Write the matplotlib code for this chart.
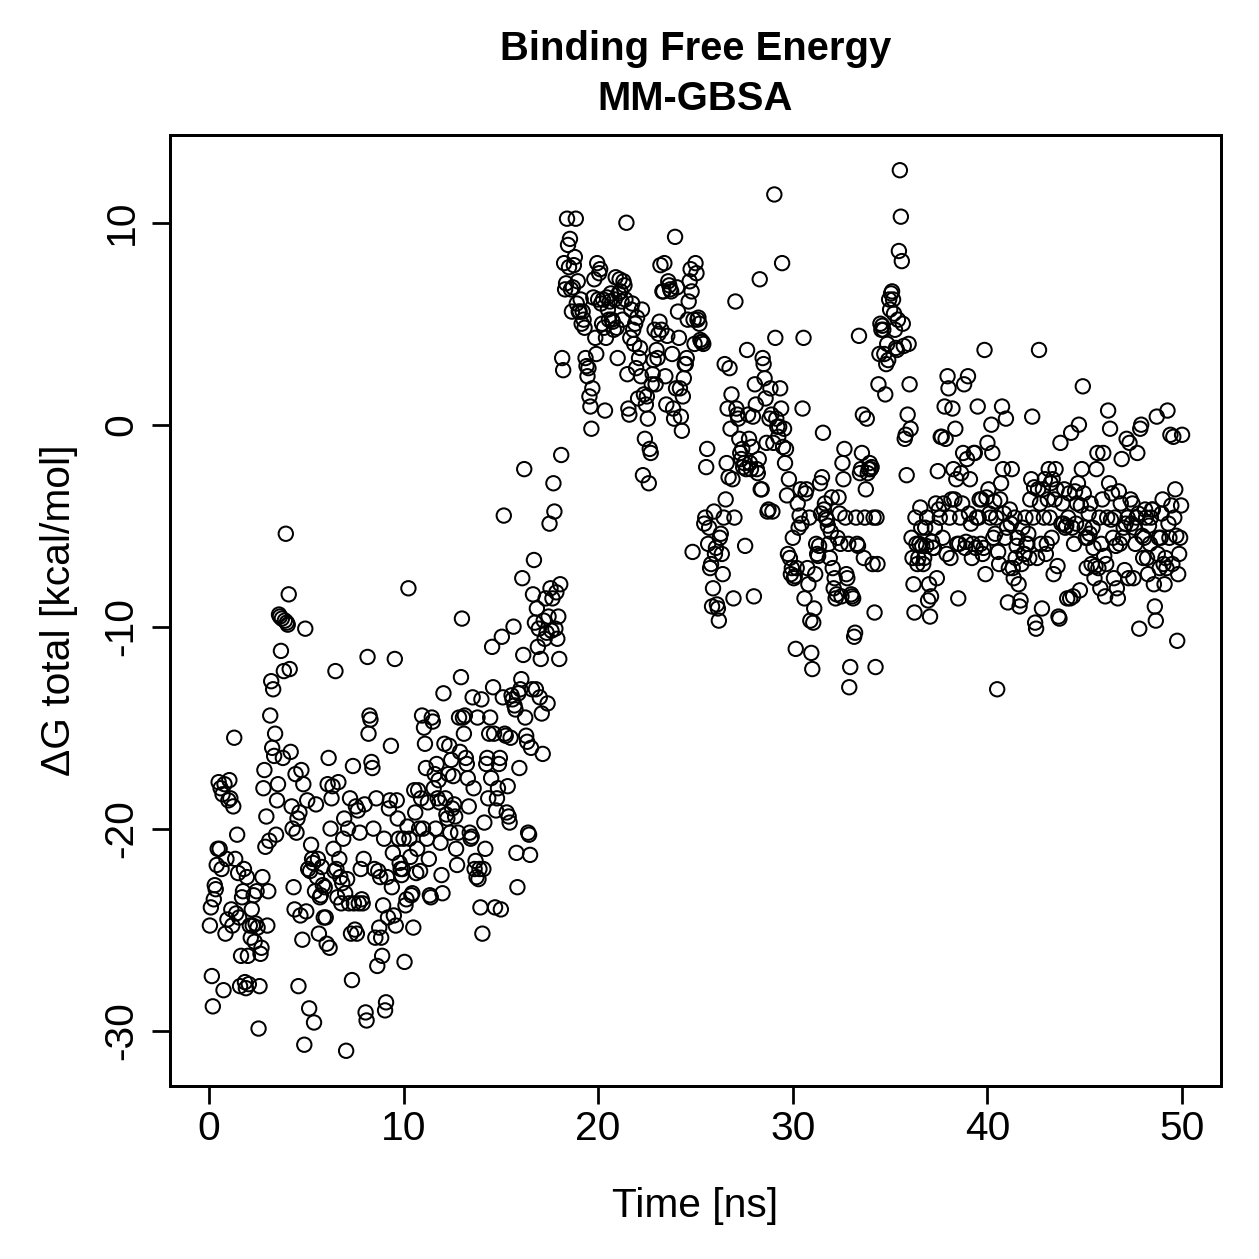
import numpy as np
import matplotlib
matplotlib.use("Agg")
import matplotlib.pyplot as plt

plt.rcParams['font.family'] = ['Liberation Sans', 'DejaVu Sans']

# Delta G total (kcal/mol), one value per frame, 20 frames per ns (0.05 ns step)
dg_00_10 = [
    -24.8, -23.9, -27.3, -28.8, -23.5, -22.8, -23.0, -21.8, -21.0, -17.7, -21.0, -18.0, -22.0, -18.3, -28.0, -17.8, -25.2, -21.5, -24.5, -18.6,
    -17.6, -18.5, -24.0, -24.8, -18.9, -15.5, -21.5, -24.2, -20.3, -22.2, -24.4, -27.8, -26.3, -23.4, -23.1, -22.0, -27.6, -27.9, -22.4, -26.3,
    -27.7, -24.8, -25.4, -24.0, -24.8, -23.3, -25.6, -24.7, -23.1, -24.9, -29.9, -27.8, -26.2, -25.9, -22.4, -18.0, -17.1, -20.9, -19.4, -24.8,
    -23.1, -20.6, -14.4, -12.7, -16.0, -13.1, -16.4, -15.3, -20.3, -18.6, -17.8, -9.4, -9.5, -11.2, -9.6, -16.5, -12.2, -9.7, -5.4, -9.8,
    -9.9, -8.4, -12.1, -16.2, -18.9, -20.0, -22.9, -24.0, -17.3, -20.2, -19.5, -27.8, -19.2, -24.3, -17.1, -25.5, -17.8, -30.7, -10.1, -24.1,
    -18.6, -22.0, -28.9, -22.1, -20.8, -21.5, -21.7, -29.6, -23.1, -18.8, -22.4, -21.5, -25.2, -23.4, -23.3, -21.9, -22.8, -24.4, -22.9, -24.4,
    -25.7, -17.8, -16.5, -25.9, -20.0, -18.5, -17.9, -21.0, -22.1, -12.2, -22.0, -23.4, -17.7, -21.5, -22.4, -23.7, -22.7, -20.5, -19.5, -23.2,
    -31.0, -22.5, -20.0, -23.7, -18.5, -25.2, -27.5, -16.9, -23.7, -25.0, -18.9, -25.2, -19.1, -23.7, -20.2, -22.0, -23.5, -23.7, -21.5, -18.8,
    -29.1, -29.5, -11.5, -15.3, -14.4, -14.6, -16.7, -17.0, -20.0, -22.0, -25.4, -18.5, -26.8, -22.1, -24.9, -22.4, -25.4, -26.3, -23.8, -20.5,
    -29.0, -28.6, -22.4, -24.4, -19.0, -18.6, -15.9, -22.9, -21.2, -24.3, -11.6, -24.8, -18.6, -19.5, -20.5, -21.7, -22.0, -22.3, -22.0, -20.5,
]
dg_10_20 = [
    -26.6, -23.8, -23.5, -19.9, -8.1, -20.5, -21.4, -23.3, -23.2, -24.9, -18.1, -19.2, -22.2, -21.0, -18.1, -20.0, -22.1, -18.5, -14.4, -20.0,
    -15.0, -15.8, -17.0, -20.5, -18.7, -21.5, -23.3, -23.4, -14.5, -14.7, -18.0, -17.3, -20.0, -16.8, -18.5, -17.6, -18.7, -20.7, -22.3, -23.2,
    -13.3, -15.8, -18.5, -19.3, -19.5, -17.3, -15.9, -20.2, -16.6, -19.0, -17.4, -18.8, -19.4, -21.0, -21.8, -20.2, -14.5, -16.2, -12.5, -9.6,
    -14.5, -15.3, -14.4, -16.5, -16.8, -17.5, -18.9, -20.2, -20.5, -20.4, -13.5, -18.0, -22.0, -21.6, -22.4, -14.5, -22.5, -22.0, -23.9, -13.6,
    -25.2, -22.0, -19.7, -21.0, -16.8, -16.5, -18.5, -15.3, -14.5, -17.5, -11.0, -13.0, -15.3, -23.9, -19.1, -18.5, -18.0, -16.8, -16.5, -24.0,
    -10.5, -13.5, -4.5, -15.3, -15.4, -19.2, -17.9, -19.4, -19.7, -15.5, -13.4, -13.6, -10.0, -13.9, -14.1, -21.2, -22.9, -13.3, -17.0, -13.1,
    -12.6, -7.6, -11.4, -2.2, -14.5, -15.4, -15.7, -20.2, -20.3, -21.3, -16.0, -13.1, -8.4, -6.7, -9.8, -13.1, -9.1, -11.0, -10.1, -13.5,
    -11.6, -14.3, -16.3, -9.7, -10.6, -8.6, -10.3, -13.8, -9.5, -4.9, -8.1, -10.2, -8.6, -2.9, -4.3, -10.1, -8.3, -10.6, -9.5, -11.6,
    -7.9, -1.5, 3.3, 2.7, 8.0, 6.7, 7.0, 10.2, 8.9, 7.8, 9.2, 6.7, 5.6, 6.8, 7.9, 8.3, 10.2, 6.0, 7.1, 5.6,
    5.6, 6.2, 5.0, 5.6, 5.2, 4.8, 3.3, 2.9, 2.4, 2.8, 1.4, 0.9, -0.2, 1.8, 6.3, 7.2, 4.3, 3.5, 8.0, 6.2,
]
dg_20_30 = [
    7.5, 7.7, 6.0, 5.0, 6.2, 4.8, 0.7, 4.3, 6.3, 5.7, 5.2, 6.1, 6.5, 5.2, 5.1, 4.7, 6.2, 7.3, 4.8, 3.3,
    6.5, 7.2, 6.6, 6.1, 5.2, 7.1, 6.9, 6.2, 10.0, 2.5, 0.8, 0.5, 4.3, 5.7, 6.0, 4.7, 4.0, 5.0, 2.8, 5.3,
    1.3, 3.3, 3.8, 2.4, 5.7, -2.5, 1.5, -0.7, 1.0, 1.4, 0.3, -2.9, -1.2, -1.4, 2.0, 2.5, 3.2, 4.7, 2.0, 3.7,
    3.3, 4.5, 5.1, 7.9, 4.7, 6.6, 6.6, 8.0, 2.4, 1.0, 4.4, 7.1, 6.9, 6.7, 6.6, 3.5, 0.8, 0.3, 9.3, 1.8,
    6.8, 5.6, 4.3, 1.8, 0.4, -0.3, 1.4, 2.3, 3.0, 3.0, 3.3, 5.2, 6.1, 7.1, 7.7, 6.6, -6.3, 5.2, 4.0, 8.0,
    7.5, 5.2, 5.3, 5.0, 4.2, 4.1, 4.1, 4.0, -4.9, -4.6, -2.1, -1.2, -5.9, -5.1, -7.1, -6.9, -9.0, -8.1, -4.3, -6.4,
    -6.1, -8.9, -9.1, -9.7, -5.6, -5.4, -6.4, -7.4, -4.6, 3.0, -3.7, -1.9, 0.8, -2.6, 2.8, -0.2, 1.5, -2.7, -8.6, -4.6,
    6.1, 0.8, 0.5, 0.3, -0.7, -1.4, -1.7, -1.2, -2.1, -1.9, -6.0, -2.2, 3.7, 0.5, -0.7, -1.9, -2.2, -1.1, 0.4, -8.5,
    2.0, 1.0, -2.2, -2.4, -1.7, 7.2, -3.2, -3.2, 3.3, 3.0, 2.3, 1.3, -0.9, -4.3, -4.2, 0.3, 1.8, 0.5, -4.3, -0.9,
    11.4, 4.3, 0.3, -0.1, -0.6, -0.1, 1.8, 0.8, 8.0, -1.1, -0.2, -1.9, -1.2, -3.5, -6.4, -2.7, -6.6, -7.4, -7.1, -5.6,
]
dg_30_40 = [
    -7.6, -7.5, -11.1, -7.1, -3.9, -5.1, -4.5, -3.2, -4.9, 0.8, 4.3, -8.6, -3.4, -3.2, -7.1, -7.9, -4.6, -9.7, -11.3, -12.1,
    -9.8, -9.1, -7.4, -5.9, -6.4, -6.5, -6.0, -2.9, -4.4, -2.6, -0.4, -4.2, -3.9, -4.6, -4.7, -5.0, -5.9, -6.6, -5.3, -3.6,
    -7.1, -8.1, -7.6, -8.6, -8.4, -5.6, -3.6, -4.4, -5.9, -8.5, -1.9, -2.7, -1.2, -4.6, -7.4, -7.6, -5.9, -13.0, -12.0, -8.4,
    -8.5, -8.6, -10.5, -10.3, -4.6, -5.9, -6.0, 4.4, -2.4, -2.2, -1.4, 0.5, -6.6, -4.6, -3.2, 0.3, -2.4, -2.2, -1.9, -2.2,
    -2.1, -6.9, -4.6, -9.3, -12.0, -4.6, -6.9, 2.0, 3.5, 5.0, 4.7, 4.9, 4.7, 3.5, 1.5, 3.0, 4.0, 3.2, 6.2, 5.7,
    6.5, 6.6, 6.2, 5.5, 4.7, 3.8, 3.7, 5.2, 8.6, 12.6, 10.3, 8.1, 5.0, 3.9, -0.7, -0.5, -2.5, 0.5, 4.0, 2.0,
    -0.2, -5.6, -6.6, -7.9, -9.3, -4.6, -5.9, -6.9, -6.6, -5.9, -4.1, -5.1, -6.0, -6.9, -6.6, -5.1, -6.0, -4.6, -8.7, -7.9,
    -9.5, -8.5, -5.8, -6.1, -6.1, -5.1, -3.9, -7.6, -2.3, -4.2, -4.6, -0.6, -0.6, -5.6, -3.9, 0.9, -0.7, -6.4, 2.4, 1.8,
    -4.6, -6.6, -3.7, 0.8, -2.2, -3.7, -0.2, -2.7, -5.9, -8.6, -5.9, -4.6, -2.4, -3.9, -1.4, 2.0, -6.1, -5.8, -1.7, 2.4,
    -4.4, -2.7, -4.9, -6.6, -5.9, -1.4, -1.4, -6.1, -4.6, 0.9, -4.6, -3.7, -5.9, -3.7, -6.4, -6.1, 3.7, -7.4, -3.6, -0.9,
]
dg_40_50 = [
    -3.2, -4.4, -4.6, 0.0, -1.4, -5.6, -3.8, -5.4, -4.6, -13.1, -6.3, -6.9, -3.7, -2.9, 0.9, -2.2, -4.4, -5.6, 0.3, -5.1,
    -8.8, -7.1, -4.2, -4.9, -2.2, -7.1, -7.6, -4.6, -6.6, -6.0, -5.6, -7.9, -9.0, -8.7, -6.9, -5.1, -6.4, -6.4, -4.6, -5.9,
    -5.9, -5.4, -6.6, -3.7, -2.7, 0.4, -4.6, -3.1, -9.8, -10.1, -6.6, -3.2, 3.7, -3.9, -5.9, -9.1, -3.2, -4.6, -2.7, -6.4,
    -5.9, -3.7, -2.2, -4.6, -2.9, -5.6, -2.7, -7.4, -3.7, -2.2, -3.2, -7.0, -9.5, -9.6, -0.9, -4.9, -3.9, -4.9, -3.2, -5.1,
    -5.0, -8.6, -4.6, -3.4, -8.6, -0.4, -5.1, -8.5, -5.9, -3.3, -4.9, -3.9, -2.9, 0.0, -8.2, -4.0, -2.2, 1.9, -3.4, -5.1,
    -5.6, -7.1, -5.6, -4.4, -5.4, -3.9, -6.9, -5.1, -6.1, -7.6, -7.0, -2.2, -1.4, -7.1, -4.6, -8.1, -5.9, -3.7, -1.4, -6.5,
    -8.5, -6.9, -4.6, 0.7, -2.9, -0.2, -4.7, -3.4, -5.6, -7.6, -4.6, -6.0, -8.1, -8.6, -3.3, -5.9, -3.9, -1.7, -5.6, -5.1,
    -7.2, -4.9, -0.7, -4.6, -7.6, -0.9, -3.7, -4.9, -3.9, -7.6, -5.1, -5.9, -4.6, -1.4, -4.4, -10.1, -0.2, 0.0, -5.5, -6.6,
    -5.6, -4.2, -4.6, -6.6, -7.4, -5.0, -5.9, -4.6, -4.2, -4.2, -7.9, -9.0, -9.7, 0.4, -6.4, -5.6, -7.1, -5.6, -4.4, -3.7,
    -6.9, -7.9, -6.6, -7.1, 0.7, -4.9, -5.6, -0.5, -4.0, -6.9, -0.6, -4.6, -3.2, -5.5, -10.7, -7.4, -6.4, -5.6, -4.0, -0.5,
]
delta_g = dg_00_10 + dg_10_20 + dg_20_30 + dg_30_40 + dg_40_50
frame_step_ns = 0.05
time_ns = [round((i + 1) * frame_step_ns, 2) for i in range(len(delta_g))]

x_ticks = [0, 10, 20, 30, 40, 50]
y_ticks = [-30, -20, -10, 0, 10]
title_lines = ['Binding Free Energy', 'MM-GBSA']

W = 1259
fig = plt.figure(figsize=(W / 180, W / 180), dpi=180)
ax = fig.add_axes([170 / W, 1 - 1086 / W, (1221 - 170) / W, (1086 - 135) / W])

ax.scatter(time_ns, delta_g, s=33, facecolors='none', edgecolors='black', linewidths=0.8)

xmin, xmax = 0.0, 50.0
ymin, ymax = min(delta_g), max(delta_g)
dx = 0.04 * (xmax - xmin)
dy = 0.04 * (ymax - ymin)
ax.set_xlim(xmin - dx, xmax + dx)
ax.set_ylim(ymin - dy, ymax + dy)

fs = 16.3
ax.set_xticks(x_ticks)
ax.set_yticks(y_ticks)
ax.set_xticklabels([str(t) for t in x_ticks], fontsize=fs)
ax.set_yticklabels([str(t) for t in y_ticks], fontsize=fs, rotation=90, va='center')
ax.tick_params(axis='both', direction='out', length=7.2, width=1.1)
ax.tick_params(axis='x', pad=2.2)
ax.tick_params(axis='y', pad=4.5)

for sp in ax.spines.values():
    sp.set_linewidth(1.2)

ax.set_xlabel('Time [ns]', fontsize=fs, va='baseline')
ax.xaxis.set_label_coords(0.5, (1086 - 1217) / 951)
ax.set_ylabel('ΔG total [kcal/mol]', fontsize=fs, va='center')
ax.yaxis.set_label_coords((59 - 170) / 1051, 0.5)

cx = (170 + 1221) / 2 / W
fig.text(cx, 1 - 60 / W, title_lines[0], ha='center', va='baseline', fontsize=16, fontweight='bold')
fig.text(cx, 1 - 110 / W, title_lines[1], ha='center', va='baseline', fontsize=16, fontweight='bold')

fig.savefig('out.png', dpi=180)
